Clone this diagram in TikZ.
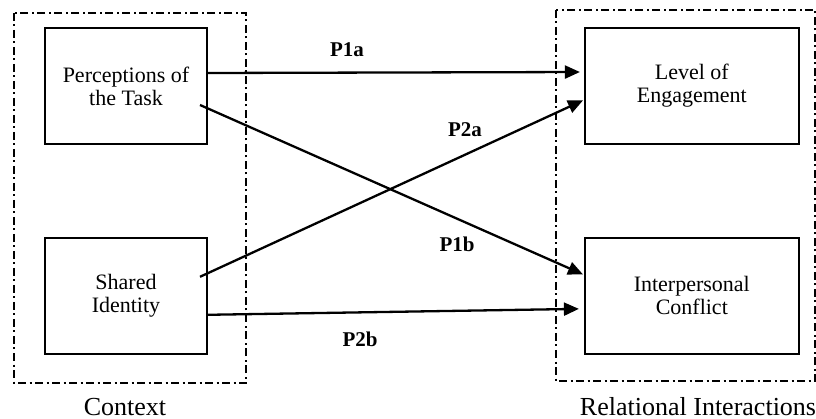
\documentclass[tikz,border=0pt]{standalone}
\usepackage{fontspec}
\setmainfont{Liberation Serif}
\usetikzlibrary{positioning,arrows.meta}

\begin{document}
\begin{tikzpicture}[x=1pt,y=1pt,
    box/.style={draw,line width=1.8pt,align=center,minimum height=116pt,inner sep=0pt,
        font=\fontsize{22}{23}\selectfont},
    frame/.style={line width=2.2pt,dash pattern=on 8pt off 3.5pt on 2pt off 3.5pt},
    arr/.style={line width=2.3pt,-{Triangle[length=15pt,width=13pt]}},
    lbl/.style={anchor=base,font=\fontsize{21}{23}\selectfont\bfseries},
    caption/.style={anchor=base,font=\fontsize{26}{30}\selectfont}]
    \useasboundingbox (0,0) rectangle (816,-419);
    \node[box, minimum width=162pt] (task) at (126,-86) {Perceptions of\\the Task};
    \node[box, minimum width=162pt, below=92pt of task] (shared) {Shared\\Identity};
    \node[box, minimum width=214pt, right=376pt of task] (engage) {Level of\\Engagement};
    \node[box, minimum width=214pt, below=92pt of engage] (conflict) {Interpersonal\\Conflict};
    % dash-dot frames
    \draw[frame] (14,-13) rectangle (246,-383);
    \draw[frame] (556,-10) rectangle (815,-381);
    \node[caption] (context) at (125,-415) {Context};
    \node[caption] (relational) at (698,-415) {Relational Interactions};
    % propositions
    \draw[arr, shorten >=4pt] ([yshift=13pt]task.east) -- ([yshift=14pt]engage.west);
    \draw[arr, shorten >=1pt] ([shift={(74,-19)}]task.center) -- ([yshift=21pt]conflict.west);
    \draw[arr, shorten >=1pt] ([shift={(74,19)}]shared.center) -- ([yshift=-14pt]engage.west);
    \draw[arr, shorten >=5pt] ([yshift=-19pt]shared.east) -- ([yshift=-13pt]conflict.west);
    \node[lbl] (p1a) at (347,-57) {P1a};
    \node[lbl] (p2a) at (465,-137) {P2a};
    \node[lbl] (p1b) at (457,-252) {P1b};
    \node[lbl] (p2b) at (360,-347) {P2b};
\end{tikzpicture}
\end{document}
